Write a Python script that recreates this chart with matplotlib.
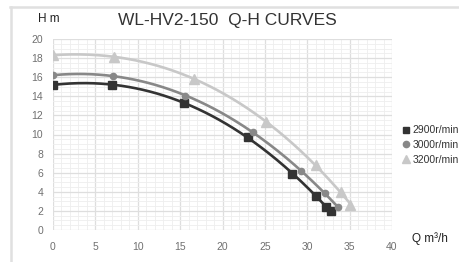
import numpy as np
import matplotlib
matplotlib.use("Agg")
import matplotlib.pyplot as plt
from matplotlib.lines import Line2D

plt.rcParams['font.family'] = ['Liberation Sans', 'DejaVu Sans']

# data
q_2900 = [0, 7, 15.5, 23, 28.2, 31, 32.2, 32.8]
h_2900 = [15.2, 15.2, 13.3, 9.7, 5.9, 3.6, 2.4, 1.95]

q_3000 = [0, 7.1, 15.6, 23.6, 29.3, 32.1, 33.6]
h_3000 = [16.2, 16.15, 14.05, 10.25, 6.15, 3.85, 2.4]

q_3200 = [0, 7.2, 16.6, 25.1, 31.0, 34.0, 35.1]
h_3200 = [18.3, 18.15, 15.85, 11.3, 6.8, 4.0, 2.6]

labels = ['2900r/min', '3000r/min', '3200r/min']
colors = ['#333333', '#888888', '#c8c8c8']
markers = ['s', 'o', '^']

fig = plt.figure(figsize=(4.59, 2.62), dpi=100)
ax = fig.add_axes([53/459, 1 - 230/262, 339/459, 191/262])

series = [(q_2900, h_2900), (q_3000, h_3000), (q_3200, h_3200)]
msizes = [5.5, 4.5, 6.5]
for (q, h), c, m, ms in zip(series, colors, markers, msizes):
    q = np.array(q); h = np.array(h)
    p = np.polyfit(q, h, 3)
    qq = np.linspace(q.min(), q.max(), 200)
    ax.plot(qq, np.polyval(p, qq), color=c, lw=1.9, zorder=3)
    ax.plot(q, h, ls='none', marker=m, color=c, ms=ms, zorder=4)

ax.set_xlim(0, 40)
ax.set_ylim(0, 20)
ax.set_xticks(np.arange(0, 41, 5))
ax.set_yticks(np.arange(0, 21, 2))
ax.set_xticks(np.arange(0, 41, 1), minor=True)
ax.set_yticks(np.arange(0, 20.1, 0.5), minor=True)
ax.grid(which='major', color='#dedede', lw=0.9)
ax.grid(which='minor', color='#eeeeee', lw=0.6)
ax.set_axisbelow(True)
for s in ax.spines.values():
    s.set_visible(False)
ax.tick_params(which='both', length=0, labelsize=7.5, labelcolor='#707070')
ax.tick_params(axis='x', pad=9)
ax.tick_params(axis='y', pad=7)

fig.text(227/459, 1 - 20/262, 'WL-HV2-150  Q-H CURVES', ha='center', va='center',
         fontsize=12.5, color='#333333')
fig.text(38/459, 1 - 19/262, 'H m', ha='left', va='center', fontsize=8.5, color='#222222')
fig.text(412/459, 1 - 239/262, 'Q m³/h', ha='left', va='center', fontsize=8.5, color='#222222')

handles = [Line2D([], [], ls='none', marker=m, color=c, ms=ms)
           for c, m, ms in zip(colors, markers, [5, 4.5, 6])]
fig.legend(handles, labels, loc='center left', bbox_to_anchor=(390/459, 1 - 145/262),
           frameon=False, fontsize=7.5, handletextpad=0.1, handlelength=1.2,
           labelspacing=0.45, labelcolor='#333333')

# light frame around the chart
fig.add_artist(Line2D([10/459, 1], [1 - 6.5/262, 1 - 6.5/262], color='#e0e0e0', lw=1.8))
fig.add_artist(Line2D([10.5/459, 10.5/459], [0, 1 - 6.5/262], color='#e0e0e0', lw=1.8))

fig.savefig('out.png', dpi=100)
